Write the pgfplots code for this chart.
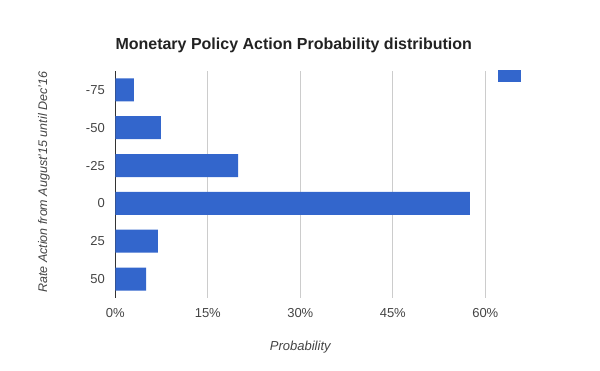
\documentclass[border=0pt]{standalone}
\usepackage{fontspec}
\setmainfont{Liberation Sans}
\usepackage{pgfplots}
\pgfplotsset{compat=1.18}
\definecolor{barblue}{HTML}{3366CC}
\definecolor{gridgray}{HTML}{CCCCCC}
\definecolor{ticktext}{HTML}{444444}
\definecolor{titletext}{HTML}{222222}
\begin{document}
\begin{tikzpicture}[x=1pt,y=1pt]
\path[use as bounding box] (0,0) rectangle (600,371);
\begin{axis}[
  at={(115.3pt,73pt)}, anchor=south west,
  scale only axis, width=370pt, height=227pt,
  xbar, bar width=23pt,
  xmin=0, xmax=60, ymin=-0.5, ymax=5.5, y dir=reverse,
  ytick={0,1,2,3,4,5}, yticklabels={-75,-50,-25,0,25,50},
  xtick={0,15,30,45,60},
  xticklabel={\pgfmathprintnumber{\tick}\%},
  /pgf/number format/assume math mode=true,
  major tick length=0pt,
  xmajorgrids, grid style={gridgray, line width=1pt},
  axis y line*=left, axis x line*=bottom,
  x axis line style={draw=none},
  y axis line style={draw=black!80, line width=1pt, -},
  tick label style={font=\fontsize{13}{15}\selectfont, text=ticktext},
  xticklabel style={yshift=-7pt},
  yticklabel style={xshift=-7pt},
  xlabel={Probability},
  xlabel style={at={(axis description cs:0.5,-0.216)}, anchor=center, font=\fontsize{13}{15}\selectfont\itshape, text=ticktext},
  ylabel={Rate Action from August'15 until Dec'16},
  ylabel style={at={(axis description cs:-0.193,0.51)}, anchor=center, font=\fontsize{12.5}{15}\selectfont\itshape, text=ticktext},
  title={Monetary Policy Action Probability distribution},
  title style={at={(axis description cs:0,1)}, anchor=base west, yshift=15pt, font=\fontsize{16}{19}\selectfont\bfseries, text=titletext, inner sep=0pt},
  legend style={at={(axis description cs:1.0343,1.004)}, anchor=north west, draw=none, inner sep=0pt, outer sep=0pt, fill=none,
    nodes={inner sep=0pt, outer sep=0pt}},
  legend image code/.code={\fill[barblue] (0pt,-6pt) rectangle (23pt,6pt);},
]
\addplot[fill=barblue, draw=none] coordinates {(3.0,0) (7.4,1) (19.9,2) (57.5,3) (6.9,4) (5.0,5)};
\addlegendentry{}
\end{axis}
\end{tikzpicture}
\end{document}
